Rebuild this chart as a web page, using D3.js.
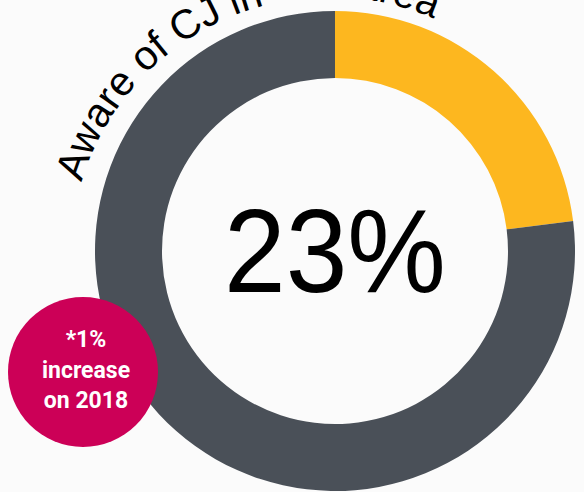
<!DOCTYPE html>
<html>
<head>
<meta charset="utf-8">
<script src="https://cdn.jsdelivr.net/npm/d3@7"></script>
<style>
  html, body { margin: 0; padding: 0; background: #fbfbfb; }
  svg { display: block; }
</style>
</head>
<body>
<svg id="chart" width="584" height="492"></svg>
<script>
// data
const categories = ["Aware", "Not aware"];
const values = [23, 77];
const headline = "23%";
const titleStart = "Aware of CJ in";
const titleHidden = " your ";   // covered up in the original artwork
const titleEnd = "area";
const badgeLines = ["*1%", "increase", "on 2018"];

const colors = ["#fdb71f", "#4a5058"];

const svg = d3.select("#chart");
const titleFont = "'Liberation Sans', Arial, sans-serif";

// curved title along an arc
const tc = { x: 330, y: 256 }, tr = 259;
const arcStart = -73.5 * Math.PI / 180, arcEnd = 60 * Math.PI / 180;
const titlePath = d3.path();
titlePath.arc(tc.x, tc.y, tr, arcStart - Math.PI / 2, arcEnd - Math.PI / 2);
svg.append("path")
    .attr("id", "titleArc")
    .attr("d", titlePath.toString())
    .attr("fill", "none");

// measure where the last word starts
const probe = svg.append("text")
    .style("font-family", titleFont)
    .style("font-size", "41px")
    .text(titleStart + titleHidden);
const endOffset = probe.node().getComputedTextLength();
probe.remove();

[[titleStart, 0], [titleEnd, endOffset]].forEach(([t, off]) => {
    svg.append("text")
        .style("font-family", titleFont)
        .style("font-size", "41px")
        .attr("fill", "#000")
      .append("textPath")
        .attr("href", "#titleArc")
        .attr("startOffset", off)
        .text(t);
});

// donut
const g = svg.append("g").attr("transform", "translate(335,251)");
const pie = d3.pie().sort(null).value(d => d);
const arc = d3.arc().innerRadius(173).outerRadius(240);
const color = d3.scaleOrdinal(categories, colors);

g.selectAll("path.slice")
    .data(pie(values))
    .enter().append("path")
    .attr("class", "slice")
    .attr("fill", (d, i) => color(categories[i]))
    .attr("d", arc);

g.append("text")
    .attr("x", 0)
    .attr("y", 41)
    .attr("text-anchor", "middle")
    .attr("textLength", 222)
    .attr("lengthAdjust", "spacingAndGlyphs")
    .style("font-family", "'Liberation Sans', Arial, sans-serif")
    .style("font-size", "119px")
    .attr("fill", "#000")
    .text(headline);

// badge
const badge = svg.append("g").attr("transform", "translate(83,372)");
badge.append("circle").attr("r", 75).attr("fill", "#cc0057");
badge.selectAll("text")
    .data(badgeLines)
    .enter().append("text")
    .attr("x", 3)
    .attr("y", (d, i) => -25 + i * 30.5)
    .attr("text-anchor", "middle")
    .style("font-family", "Roboto, sans-serif")
    .style("font-weight", "bold")
    .style("font-size", "23px")
    .attr("fill", "#fff")
    .text(d => d);
</script>
</body>
</html>
